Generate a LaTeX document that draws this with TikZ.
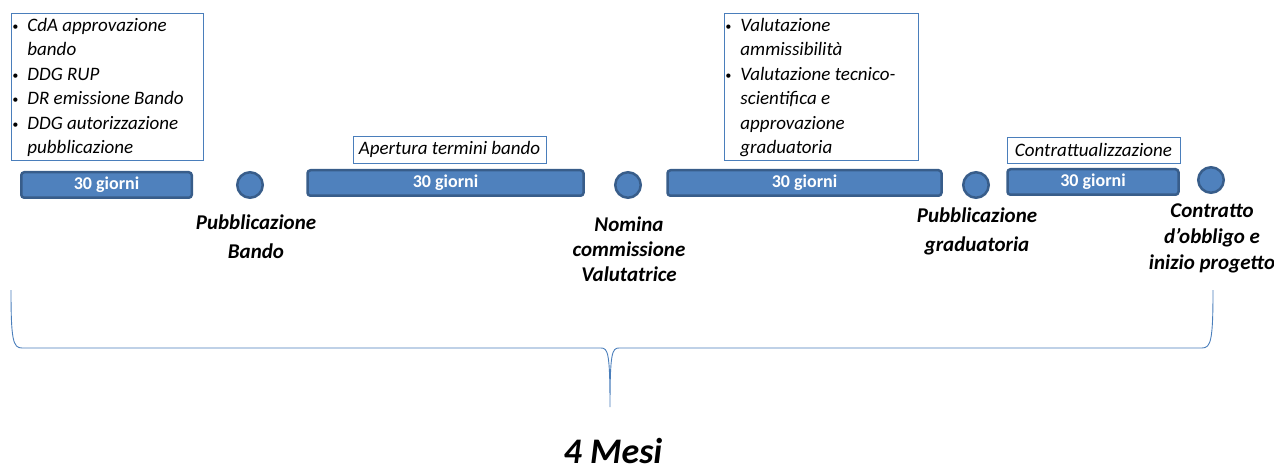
\documentclass[tikz,border=0pt]{standalone}
\usepackage{fontspec}
\setmainfont{Carlito}
\usepackage{tikz}
\usetikzlibrary{calc}
\definecolor{barblue}{HTML}{4F81BD}
\definecolor{bardark}{HTML}{385D8A}
\definecolor{boxline}{HTML}{4A7EBB}
\newcommand{\bul}{\makebox[15pt][l]{\raisebox{1pt}{\fontsize{12}{12}\selectfont\textbullet}}}
\newcommand{\cont}{\hspace*{15pt}}
\newcommand{\primariga}{\rule{0pt}{15pt}}
\tikzstyle{phase}=[rectangle,rounded corners=3pt,fill=barblue,draw=bardark,line width=2.5pt,minimum height=25.5pt,inner sep=0pt,text=white,font=\fontsize{18}{20}\selectfont\bfseries]
\tikzstyle{milestone}=[circle,fill=barblue,draw=bardark,line width=2.5pt,minimum size=25.5pt,inner sep=0pt]
\tikzstyle{event}=[align=center,inner sep=0pt,font=\fontsize{21}{29}\selectfont\bfseries\itshape]
\tikzstyle{note}=[draw=boxline,line width=0.9pt,inner xsep=1pt,inner ysep=3pt,font=\fontsize{19}{24.5}\selectfont\itshape,align=flush left]
\tikzstyle{brace}=[draw=boxline,line width=0.9pt]

\begin{document}
\begin{tikzpicture}[x=1pt,y=-1pt]

   \useasboundingbox (0,0) rectangle (1274,473);

    % phases of 30 days
    \foreach \pos/ \name / \width in {{(106.5,185)/fase1/170.5},{(445.5,183)/fase2/276},{(804.5,183)/fase3/274},{(1093,182)/fase4/171}}
        \node[phase,minimum width=\width pt] (\name) at \pos {30 giorni};

    % milestones
    \foreach \pos/ \name in {{(250,185)/pubbl},{(628,185)/nomina},{(976,185)/grad},{(1211,180)/contr}}
        \node[milestone] (\name) at \pos {};

    \node[event] (pubblLabel) at (256,237) {Pubblicazione\\Bando};
    \node[event,font=\fontsize{21}{25}\selectfont\bfseries\itshape] (nominaLabel) at (629,249) {Nomina\\commissione\\Valutatrice};
    \node[event] (gradLabel) at (977,231) {Pubblicazione\\graduatoria};
    \node[event,font=\fontsize{21}{26}\selectfont\bfseries\itshape] (contrLabel) at (1212,238) {Contratto\\d’obbligo e\\inizio progetto};

    % notes above the phases
    \node[note,anchor=north west,text width=190pt] (avvio) at (11,13)
        {\primariga\bul CdA approvazione\\\cont bando\\\bul DDG RUP\\\bul DR emissione Bando\\\bul DDG autorizzazione\\\cont pubblicazione};
    \node[note,minimum width=193pt,minimum height=27pt,inner sep=0pt] (apertura) at (449.5,149.5) {Apertura termini bando};
    \node[note,anchor=north west,text width=192pt] (valut) at (724,13)
        {\primariga\bul Valutazione\\\cont ammissibilità\\\bul Valutazione tecnico-\\\cont scientifica e\\\cont approvazione\\\cont graduatoria};
    \node[note,minimum width=173pt,minimum height=26pt,inner sep=0pt] (contratt) at (1093.5,150) {Contrattualizzazione};

    % brace over the whole period
    \coordinate (inizio) at (11,290);
    \coordinate (fine) at (1213,290);
    \coordinate (punta) at (610,407);
    \draw[brace] (inizio) .. controls (11,340) and (13,348) .. (22,348) -- (601,348)
        .. controls (608,348) and (610,353) .. (punta)
        .. controls (610,353) and (612,348) .. (619,348) -- (1202,348)
        .. controls (1211,348) and (1213,340) .. (fine);

   \node[anchor=base,font=\fontsize{36}{40}\selectfont\bfseries\itshape] (durata) at (613,463) {4 Mesi};

\end{tikzpicture}
\end{document}
